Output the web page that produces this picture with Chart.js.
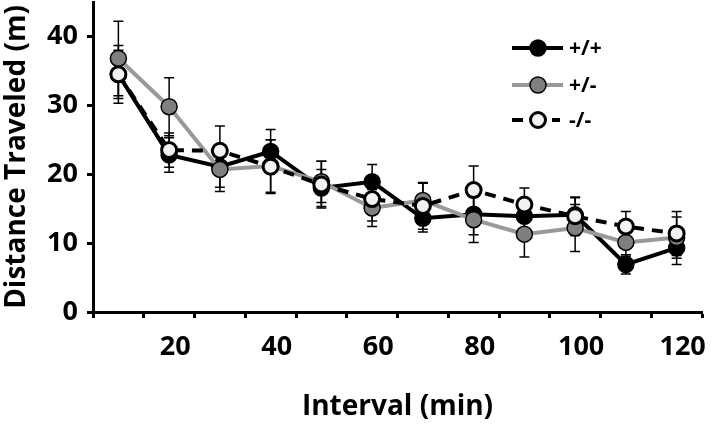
<!DOCTYPE html>
<html><head><meta charset="utf-8">
<script src="https://cdn.jsdelivr.net/npm/chart.js@4"></script>
<style>html,body{margin:0;padding:0;background:#fff}</style>
</head><body>
<canvas id="c" width="713" height="425"></canvas>
<script>
// ---- data ----
const categories = ['10','20','30','40','50','60','70','80','90','100','110','120'];
const seriesNames = ['+/+', '+/-', '-/-'];
const wtMeans  = [34.5, 22.8, 21.1, 23.3, 18.0, 18.9, 13.6, 14.2, 13.9, 14.1, 6.9, 9.3];
const wtErr    = [4.2, 2.5, 3.0, 3.2, 2.7, 2.5, 2.0, 3.0, 2.5, 2.5, 1.4, 2.4];
const hetMeans = [36.8, 29.8, 20.7, 21.2, 18.9, 15.1, 16.2, 13.4, 11.3, 12.2, 10.1, 10.8];
const hetErr   = [5.4, 4.2, 3.2, 3.8, 3.0, 2.7, 2.5, 3.3, 3.3, 3.4, 2.0, 3.0];
const koMeans  = [34.5, 23.5, 23.4, 21.1, 18.5, 16.4, 15.4, 17.7, 15.6, 13.9, 12.4, 11.4];
const koErr    = [3.5, 2.5, 3.6, 3.9, 3.4, 3.2, 3.4, 3.5, 2.4, 2.8, 2.2, 3.2];
const yTickValues = [0, 10, 20, 30, 40];

const FONT = '"Open Sans", Lato, sans-serif';

const errorBars = {
  id: 'errorBars',
  beforeDatasetsDraw(chart) {
    const ctx = chart.ctx, y = chart.scales.y;
    ctx.save();
    ctx.strokeStyle = '#000';
    ctx.lineWidth = 1.5;
    chart.data.datasets.forEach((ds, i) => {
      const meta = chart.getDatasetMeta(i);
      meta.data.forEach((pt, j) => {
        const m = ds.data[j], e = ds.errors[j];
        const yt = y.getPixelForValue(m + e), yb = y.getPixelForValue(m - e);
        ctx.beginPath();
        ctx.moveTo(pt.x, yt); ctx.lineTo(pt.x, yb);
        ctx.moveTo(pt.x - 5, yt); ctx.lineTo(pt.x + 5, yt);
        ctx.moveTo(pt.x - 5, yb); ctx.lineTo(pt.x + 5, yb);
        ctx.stroke();
      });
    });
    ctx.restore();
  }
};

const customLegend = {
  id: 'customLegend',
  afterDraw(chart) {
    const ctx = chart.ctx;
    const x0 = 512, x1 = 563, xm = 538, tx = 569;
    const rows = [48, 85, 120];
    ctx.save();
    chart.data.datasets.forEach((ds, i) => {
      const yy = rows[i];
      ctx.strokeStyle = ds.borderColor;
      ctx.lineWidth = ds.borderWidth;
      ctx.beginPath();
      if (ds.borderDash && ds.borderDash.length) {
        ctx.moveTo(x0, yy); ctx.lineTo(x0 + 11, yy);
        ctx.moveTo(x1 - 11, yy); ctx.lineTo(x1 - 3, yy);
      } else {
        ctx.moveTo(x0, yy); ctx.lineTo(x1, yy);
      }
      ctx.stroke();
      ctx.beginPath();
      ctx.arc(xm, yy, ds.pointRadius, 0, Math.PI * 2);
      ctx.fillStyle = ds.pointBackgroundColor;
      ctx.fill();
      ctx.lineWidth = ds.pointBorderWidth;
      ctx.strokeStyle = ds.pointBorderColor;
      ctx.stroke();
      ctx.fillStyle = '#000';
      ctx.font = 'bold 21px ' + FONT;
      ctx.textBaseline = 'middle';
      ctx.textAlign = 'left';
      ctx.fillText(ds.label, tx, yy + 1);
    });
    ctx.restore();
  }
};

function noPad(s) { s.paddingTop = 0; s.paddingBottom = 0; s.paddingLeft = 0; s.paddingRight = 0; }

new Chart(document.getElementById('c'), {
  type: 'line',
  data: {
    labels: categories,
    datasets: [
      { label: seriesNames[0], data: wtMeans, errors: wtErr, order: 2,
        borderColor: '#000', borderWidth: 4, pointRadius: 8, pointHoverRadius: 8,
        pointBackgroundColor: '#000', pointBorderColor: '#000', pointBorderWidth: 1.5 },
      { label: seriesNames[1], data: hetMeans, errors: hetErr, order: 1,
        borderColor: '#999999', borderWidth: 4, pointRadius: 8, pointHoverRadius: 8,
        pointBackgroundColor: '#7f7f7f', pointBorderColor: '#000', pointBorderWidth: 1.5 },
      { label: seriesNames[2], data: koMeans, errors: koErr, order: 0,
        borderColor: '#000', borderWidth: 4, borderDash: [11, 8], pointRadius: 7.5, pointHoverRadius: 7.5,
        pointBackgroundColor: '#f2f2f2', pointBorderColor: '#000', pointBorderWidth: 3 }
    ]
  },
  options: {
    responsive: false,
    animation: false,
    devicePixelRatio: 1,
    layout: { autoPadding: false, padding: { top: 2, right: 11, left: 0, bottom: 0 } },
    plugins: { legend: { display: false }, tooltip: { enabled: false } },
    elements: { line: { tension: 0 } },
    scales: {
      x: {
        type: 'category',
        offset: true,
        grid: { offset: true, drawOnChartArea: false, drawTicks: true, tickLength: 6, tickWidth: 3, tickColor: '#000' },
        border: { display: true, color: '#000', width: 3 },
        ticks: {
          autoSkip: false, maxRotation: 0, minRotation: 0, padding: 13, labelOffset: 6,
          color: '#000', font: { family: FONT, size: 27, weight: 'bold' },
          callback: function(v, i) { return i % 2 === 1 ? categories[i] : ''; }
        },
        title: { display: true, text: 'Interval (min)', color: '#000',
          font: { family: FONT, size: 28, weight: 'bold' }, padding: { top: 0, bottom: 1 } },
        afterFit: s => { s.height = 113; noPad(s); }
      },
      y: {
        min: 0, max: 45,
        grid: { drawOnChartArea: false, drawTicks: true, tickLength: 6, tickWidth: 3, tickColor: '#000' },
        border: { display: true, color: '#000', width: 3 },
        ticks: {
          stepSize: 5, padding: 9, color: '#000',
          font: { family: FONT, size: 27, weight: 'bold' },
          callback: v => (yTickValues.includes(v) ? String(v) : '')
        },
        title: { display: true, text: 'Distance Traveled (m)', color: '#000',
          font: { family: FONT, size: 28, weight: 'bold' }, padding: { top: 0, bottom: 0 } },
        afterFit: s => { s.width = 93; noPad(s); }
      }
    }
  },
  plugins: [errorBars, customLegend]
});
</script>
</body></html>
